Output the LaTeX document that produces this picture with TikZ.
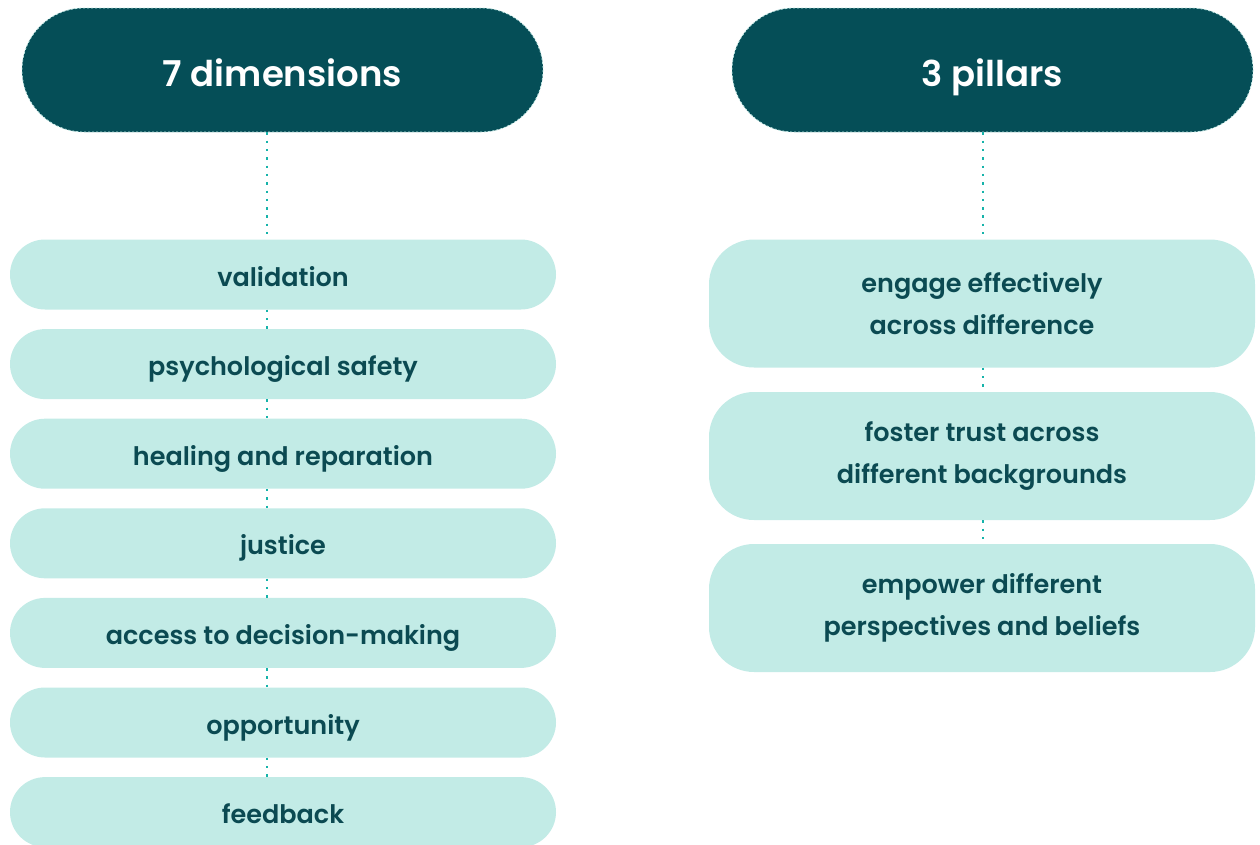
\documentclass[tikz,border=0pt]{standalone}
\usepackage{fontspec}
\setmainfont{Poppins}[BoldFont={* SemiBold}]
\usetikzlibrary{positioning}

\definecolor{deepteal}{HTML}{054E57}
\definecolor{paleteal}{HTML}{C2EBE6}
\definecolor{inkteal}{HTML}{0B4A52}
\definecolor{dotteal}{HTML}{16B3AA}

\tikzset{
  headpill/.style={rectangle, rounded corners=62pt, fill=deepteal,
    draw=paleteal, line width=0.8pt, dash pattern=on 2pt off 2pt,
    minimum width=521pt, minimum height=124pt, text=white,
    text height=32pt, text depth=0pt,
    font=\fontsize{35.5}{44}\selectfont\bfseries},
  dimpill/.style={rectangle, rounded corners=35pt, fill=paleteal,
    minimum width=546pt, minimum height=70pt, text=inkteal,
    text height=23pt, text depth=0pt,
    font=\fontsize{25.5}{42}\selectfont\bfseries},
  pillarbox/.style={rectangle, rounded corners=45pt, fill=paleteal,
    minimum width=546pt, minimum height=128pt, text=inkteal, align=center,
    font=\fontsize{25.5}{42}\selectfont\bfseries},
  dotline/.style={dotteal, line width=2.4pt, dash pattern=on 2.4pt off 5.9pt}
}

\begin{document}
\begin{tikzpicture}[x=1pt,y=-1pt]
  \useasboundingbox (0,0) rectangle (1260,844);

  % headers
  \node[headpill] (dimhead) at (282.5,70) {7 dimensions};
  \node[headpill] (pilhead) at (992.5,70) {3 pillars};

  % left column
  \coordinate (lspine) at (267,0);
  \foreach \lab [count=\i] in {validation, psychological safety,
      healing and reparation, justice, access to decision-making,
      opportunity, feedback}
    \node[dimpill] (d\i) at (283,{274.5+89.6*(\i-1)}) {\lab};

  \draw[dotline] (dimhead.south -| lspine) -- (d1.north -| lspine);
  \foreach \i [evaluate=\i as \j using int(\i+1)] in {1,...,6}
    \draw[dotline] (d\i.south -| lspine) -- (d\j.north -| lspine);

  % right column
  \node[pillarbox] (p1) at (982,303.5) {engage effectively\\across difference};
  \node[pillarbox] (p2) at (982,456) {foster trust across\\different backgrounds};
  \node[pillarbox] (p3) at (982,608) {empower different\\perspectives and beliefs};

  \coordinate (rspine) at (983,0);
  \draw[dotline] (pilhead.south -| rspine) -- (p1.north -| rspine);
  \draw[dotline] (p1.south -| rspine) -- (p2.north -| rspine);
  \draw[dotline] (p2.south -| rspine) -- (p3.north -| rspine);
\end{tikzpicture}
\end{document}
